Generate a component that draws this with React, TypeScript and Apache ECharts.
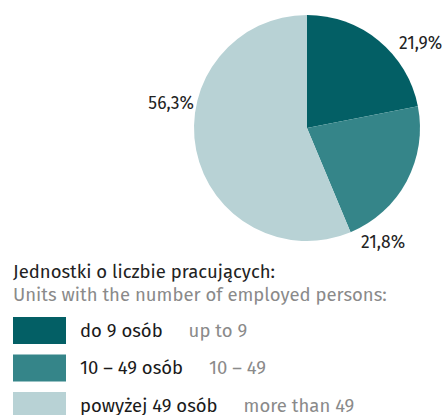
import React, { useEffect, useRef } from "react";
import * as echarts from "echarts";

const categoriesPl = ["do 9 osób", "10 – 49 osób", "powyżej 49 osób"];
const categoriesEn = ["up to 9", "10 – 49", "more than 49"];
const shares = [21.9, 21.8, 56.3];
const colors = ["#035f65", "#358589", "#b8d2d5"];

const titlePl = "Jednostki o liczbie pracujących:";
const titleEn = "Units with the number of employed persons:";

// label anchor positions (layout, px)
const labelSpots = [
  { x: 399, y: 43, align: "left" },
  { x: 361, y: 242, align: "left" },
  { x: 194, y: 103, align: "right" },
];

const FONT = "'Fira Sans', 'Noto Sans', 'Open Sans', sans-serif";

export default function App() {
  const ref = useRef<HTMLDivElement>(null);
  useEffect(() => {
    if (!ref.current) return;
    const chart = echarts.init(ref.current, null, { renderer: "svg" });
    const data = categoriesPl.map((name, i) => ({
      name,
      value: shares[i],
      itemStyle: { color: colors[i] },
    }));
    chart.setOption({
      animation: false,
      backgroundColor: "#ffffff",
      title: {
        text: titlePl,
        subtext: titleEn,
        left: 13,
        top: 262,
        padding: 0,
        itemGap: 4,
        textStyle: { fontFamily: FONT, fontSize: 18.5, fontWeight: "normal", color: "#222222" },
        subtextStyle: { fontFamily: FONT, fontSize: 18.5, color: "#8a8a8a" },
      },
      legend: {
        orient: "vertical",
        left: 13,
        top: 317,
        height: 140,
        padding: 0,
        itemWidth: 53,
        itemHeight: 27,
        itemGap: 10.5,
        icon: "rect",
        selectedMode: false,
        data: categoriesPl,
        formatter: (name: string) => {
          const i = categoriesPl.indexOf(name);
          return `{a|${name}}{b|${categoriesEn[i]}}`;
        },
        textStyle: {
          fontFamily: FONT,
          padding: [0, 0, 0, 9],
          rich: {
            a: { fontFamily: FONT, fontSize: 18.5, color: "#1a1a1a" },
            b: { fontFamily: FONT, fontSize: 18.5, color: "#8a8a8a", padding: [0, 0, 0, 26] },
          },
        },
      },
      series: [
        {
          type: "pie",
          center: [307, 128],
          radius: 113,
          startAngle: 90,
          clockwise: true,
          avoidLabelOverlap: false,
          data,
          label: {
            show: true,
            position: "outside",
            overflow: "none",
            formatter: (p: any) => `${String(p.value.toFixed(1)).replace(".", ",")}%`,
            fontFamily: FONT,
            fontSize: 17.5,
            color: "#222222",
          },
          labelLine: { show: false },
          labelLayout: (params: any) => {
            const s = labelSpots[params.dataIndex];
            return { x: s.x, y: s.y, align: s.align, verticalAlign: "middle", hideOverlap: false };
          },
          emphasis: { disabled: true },
        },
      ],
    });
    return () => chart.dispose();
  }, []);
  return (
    <div
      ref={ref}
      style={{ position: "fixed", left: 0, top: 0, width: 445, height: 415 }}
    />
  );
}
